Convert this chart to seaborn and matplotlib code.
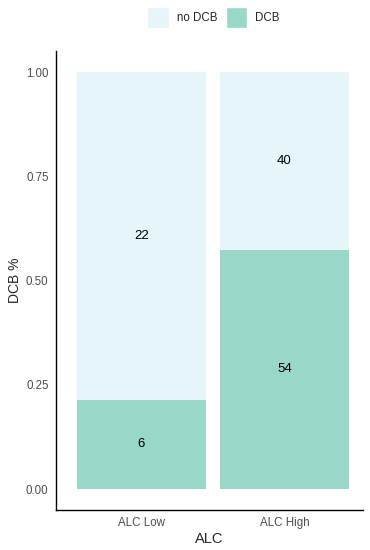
import pandas as pd
import numpy as np
import matplotlib
matplotlib.use("Agg")
import matplotlib.pyplot as plt
import seaborn as sns
from matplotlib.patches import Patch

groups = ["ALC Low", "ALC High"]
dcb = [6, 54]
no_dcb = [22, 40]

df = pd.DataFrame({"ALC": groups, "DCB": dcb, "no DCB": no_dcb})
df["total"] = df["DCB"] + df["no DCB"]
df["p_dcb"] = df["DCB"] / df["total"]
df["p_all"] = 1.0

c_no = "#E5F5F9"
c_dcb = "#99D8C9"

sns.set_style("white")
plt.rcParams['font.family'] = ['Liberation Sans', 'DejaVu Sans']

fig = plt.figure(figsize=(3.7, 5.5), dpi=100)
ax = fig.add_axes([0.15, 0.0727, 0.831, 0.834])

sns.barplot(data=df, x="ALC", y="p_all", color=c_no, width=0.9, ax=ax, saturation=1, linewidth=0)
sns.barplot(data=df, x="ALC", y="p_dcb", color=c_dcb, width=0.9, ax=ax, saturation=1, linewidth=0)

for i, row in df.iterrows():
    ax.text(i, row["p_dcb"] / 2, str(row["DCB"]), ha="center", va="center", fontsize=9.5, color="black")
    ax.text(i, row["p_dcb"] + (1 - row["p_dcb"]) / 2, str(row["no DCB"]), ha="center", va="center", fontsize=9.5, color="black")

ax.set_xlim(-0.6, 1.55)
ax.set_ylim(-0.05, 1.05)
ax.set_yticks([0, 0.25, 0.5, 0.75, 1.0])
ax.set_yticklabels(["0.00", "0.25", "0.50", "0.75", "1.00"])
ax.set_xlabel("ALC", fontsize=10.5, labelpad=2)
ax.set_ylabel("DCB %", fontsize=10, labelpad=3)
ax.tick_params(axis="both", labelsize=8.3, labelcolor="#4D4D4D", length=3, width=0.8,
               color="#333333", direction="out", pad=2)
sns.despine(ax=ax)
for s in ["left", "bottom"]:
    ax.spines[s].set_color("black")
    ax.spines[s].set_linewidth(1.0)

handles = [Patch(facecolor=c_no, label="no DCB"), Patch(facecolor=c_dcb, label="DCB")]
fig.legend(handles=handles, loc="center", bbox_to_anchor=(0.577, 0.969), ncol=2, frameon=False,
           fontsize=8.3, handlelength=1.9, handleheight=2.43, handletextpad=0.7, columnspacing=0.7,
           borderaxespad=0.3)

fig.savefig("out.png", dpi=100)
